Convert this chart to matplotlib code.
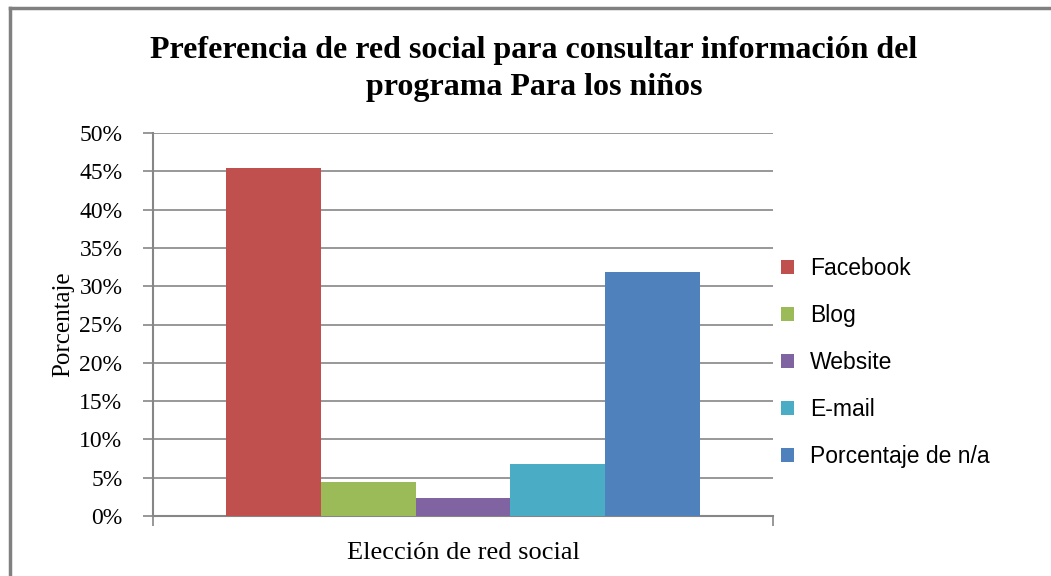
import matplotlib.pyplot as plt
from matplotlib.lines import Line2D
from matplotlib.ticker import PercentFormatter

series = ['Facebook', 'Blog', 'Website', 'E-mail', 'Porcentaje de n/a']
values = [45.4, 4.5, 2.3, 6.8, 31.8]
colors = ['#C0504D', '#9BBB59', '#8064A2', '#4BACC6', '#4F81BD']
yticks = [0, 5, 10, 15, 20, 25, 30, 35, 40, 45, 50]

grid_gray = '#868686'

fig = plt.figure(figsize=(10.51, 5.76), dpi=100)
ax = fig.add_axes([153 / 1051, 1 - 516 / 576, 620 / 1051, 383 / 576])

# one category, five series side by side
w = 0.153
for i, (name, v, c) in enumerate(zip(series, values, colors)):
    ax.bar((i - 2) * w, v, width=w, color=c, label=name, zorder=3)

ax.set_xlim(-0.5, 0.5)
ax.set_ylim(0, 50)
ax.set_yticks(yticks)
ax.yaxis.set_major_formatter(PercentFormatter(decimals=0))
ax.set_xticks([-0.5, 0.5])
ax.set_xticklabels(['', ''])
ax.grid(axis='y', color=grid_gray, linewidth=1.2, zorder=0)

for s in ['top', 'right']:
    ax.spines[s].set_visible(False)
for s in ['left', 'bottom']:
    ax.spines[s].set_color(grid_gray)
    ax.spines[s].set_linewidth(1.5)

ax.tick_params(axis='y', direction='out', length=7, color=grid_gray, width=1.2,
               pad=15, labelsize=17)
ax.tick_params(axis='x', direction='out', length=7, color=grid_gray, width=1.2)
for lbl in ax.get_yticklabels():
    lbl.set_fontfamily('Liberation Serif')

ax.set_ylabel('Porcentaje', fontfamily='Liberation Serif', fontsize=18, labelpad=4)
ax.set_xlabel('Elección de red social', fontfamily='Liberation Serif', fontsize=19,
              labelpad=8)

fig.text(534 / 1051, 1 - 69 / 576,
         'Preferencia de red social para consultar información del\nprograma Para los niños',
         ha='center', va='center', fontfamily='Liberation Serif', fontweight='bold',
         fontsize=23, linespacing=1.4)

ax.legend(loc='center left', bbox_to_anchor=(772 / 620 - 153 / 620, 0.40),
          frameon=False, prop={'family': 'Liberation Sans', 'size': 16.5},
          handlelength=0.55, handleheight=0.55, handletextpad=0.7, labelspacing=1.05,
          borderaxespad=0)

# chart area border (only top and left visible)
fig.add_artist(Line2D([10 / 1051, 1], [1 - 8 / 576] * 2, color='#808080', linewidth=2.5,
                      transform=fig.transFigure))
fig.add_artist(Line2D([10 / 1051] * 2, [0, 1 - 8 / 576], color='#808080', linewidth=2.5,
                      transform=fig.transFigure))

fig.savefig('out.png', dpi=100)
